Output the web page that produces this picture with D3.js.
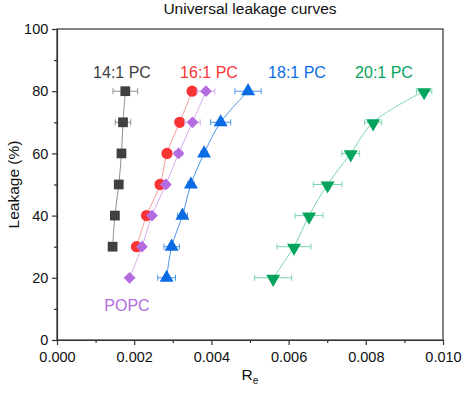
<!DOCTYPE html>
<html>
<head>
<meta charset="utf-8">
<script src="https://cdn.jsdelivr.net/npm/d3@7"></script>
<style>
  body { margin: 0; background: #fff; }
  text { font-family: Arial, "Liberation Sans", sans-serif; }
</style>
</head>
<body>
<div id="chart"></div>
<script>
// leakage levels (%)
const leak7 = [30, 40, 50, 60, 70, 80];
const leakPOPC = [20, 30, 40, 50, 60, 70, 80];
const leak18 = [20, 30, 40, 50, 60, 70, 80];
const leak20 = [20, 30, 40, 50, 60, 70, 80];

// R_e values and errors per series
const re14 = [0.00144, 0.00150, 0.00160, 0.00167, 0.00171, 0.00177];
const err14 = [0.00004, 0.00004, 0.00004, 0.00007, 0.00020, 0.00032];
const re16 = [0.00206, 0.00232, 0.00267, 0.00285, 0.00318, 0.00350];
const err16 = [0.00005, 0.00005, 0.00005, 0.00005, 0.00005, 0.00005];
const rePOPC = [0.00188, 0.00220, 0.00246, 0.00282, 0.00315, 0.00351, 0.00386];
const errPOPC = [0.00005, 0.00006, 0.00006, 0.00006, 0.00010, 0.00020, 0.00023];
const re18 = [0.00284, 0.00297, 0.00325, 0.00347, 0.00381, 0.00424, 0.00495];
const err18 = [0.00023, 0.00020, 0.00013, 0.00008, 0.00008, 0.00026, 0.00034];
const re20 = [0.00560, 0.00614, 0.00653, 0.00701, 0.00761, 0.00819, 0.00951];
const err20 = [0.00048, 0.00044, 0.00036, 0.00037, 0.00023, 0.00022, 0.00020];

const xTicks = [0, 0.002, 0.004, 0.006, 0.008, 0.010];
const yTicks = [0, 20, 40, 60, 80, 100];

const series = [
  {name: "14:1 PC", re: re14, err: err14, leak: leak7, color: "#404040", line: "#909090", shape: d3.symbolSquare, size: 95, rot: 0, lx: 122, ly: 78},
  {name: "16:1 PC", re: re16, err: err16, leak: leak7, color: "#fa3434", line: "#f99a9a", shape: d3.symbolCircle, size: 100, rot: 0, lx: 209, ly: 78},
  {name: "POPC", re: rePOPC, err: errPOPC, leak: leakPOPC, color: "#b46be0", line: "#d6aaef", shape: d3.symbolSquare, size: 70, rot: 45, lx: 127, ly: 311},
  {name: "18:1 PC", re: re18, err: err18, leak: leak18, color: "#0a6be4", line: "#4a94ea", shape: d3.symbolTriangle, size: 85, rot: 0, lx: 297, ly: 78},
  {name: "20:1 PC", re: re20, err: err20, leak: leak20, color: "#05a45c", line: "#7ad6ae", shape: d3.symbolTriangle, size: 85, rot: 180, lx: 384, ly: 78}
];

const width = 464, height = 396;
const margin = {top: 29, right: 21, bottom: 56, left: 57};
const svg = d3.select("#chart").append("svg").attr("width", width).attr("height", height);

const x = d3.scaleLinear().domain([0, 0.010]).range([margin.left, width - margin.right]);
const y = d3.scaleLinear().domain([0, 100]).range([height - margin.bottom, margin.top]);

// frame
svg.append("rect")
  .attr("x", x(0)).attr("y", y(100))
  .attr("width", x(0.010) - x(0)).attr("height", y(0) - y(100))
  .attr("fill", "none").attr("stroke", "#333").attr("stroke-width", 1.2);

// axes
const xAxis = svg.append("g").attr("transform", `translate(0,${y(0)})`)
  .call(d3.axisBottom(x).tickValues(xTicks).tickFormat(d3.format(".3f")).tickSize(5).tickSizeOuter(0));
svg.append("g").attr("transform", `translate(0,${y(0)})`)
  .call(d3.axisBottom(x).tickValues(d3.range(0.001, 0.010, 0.002)).tickFormat("").tickSize(3).tickSizeOuter(0))
  .select(".domain").remove();
const yAxis = svg.append("g").attr("transform", `translate(${x(0)},0)`)
  .call(d3.axisLeft(y).tickValues(yTicks).tickSize(5).tickSizeOuter(0));
svg.append("g").attr("transform", `translate(${x(0)},0)`)
  .call(d3.axisLeft(y).tickValues(d3.range(10, 100, 20)).tickFormat("").tickSize(3).tickSizeOuter(0))
  .select(".domain").remove();

svg.selectAll(".tick line").attr("stroke", "#333").attr("stroke-width", 1.2);
svg.selectAll(".domain").attr("stroke", "#333").attr("stroke-width", 1.2);
xAxis.selectAll("text").attr("font-size", 14.5).attr("fill", "#111").attr("dy", "0.95em");
yAxis.selectAll("text").attr("font-size", 14.5).attr("fill", "#111").attr("dx", "-0.05em");

// title and axis labels
svg.append("text").attr("x", 250).attr("y", 14).attr("text-anchor", "middle")
  .attr("font-size", 15.5).attr("fill", "#111").text("Universal leakage curves");
const xl = svg.append("text").attr("x", 250).attr("y", 380).attr("text-anchor", "middle")
  .attr("font-size", 15.5).attr("fill", "#111");
xl.append("tspan").text("R");
xl.append("tspan").attr("font-size", 10).attr("dy", 4).text("e");
svg.append("text").attr("transform", `translate(19,${y(50)}) rotate(-90)`)
  .attr("text-anchor", "middle").attr("font-size", 15.5).attr("fill", "#111").text("Leakage (%)");

const line = d3.line().x(d => x(d.re)).y(d => y(d.leak)).curve(d3.curveCatmullRom);

series.forEach(s => {
  const pts = s.re.map((r, i) => ({re: r, err: s.err[i], leak: s.leak[i]}));
  const g = svg.append("g");
  g.append("path").datum(pts).attr("fill", "none").attr("stroke", s.line)
    .attr("stroke-width", 1).attr("d", line);
  // error bars
  const eb = g.selectAll(".eb").data(pts).join("g").attr("stroke", s.line).attr("stroke-width", 1);
  eb.append("line").attr("x1", d => x(d.re - d.err)).attr("x2", d => x(d.re + d.err))
    .attr("y1", d => y(d.leak)).attr("y2", d => y(d.leak));
  eb.append("line").attr("x1", d => x(d.re - d.err)).attr("x2", d => x(d.re - d.err))
    .attr("y1", d => y(d.leak) - 3).attr("y2", d => y(d.leak) + 3);
  eb.append("line").attr("x1", d => x(d.re + d.err)).attr("x2", d => x(d.re + d.err))
    .attr("y1", d => y(d.leak) - 3).attr("y2", d => y(d.leak) + 3);
  // markers
  g.selectAll(".m").data(pts).join("path")
    .attr("d", d3.symbol().type(s.shape).size(s.size))
    .attr("transform", d => `translate(${x(d.re)},${y(d.leak) + (s.rot === 180 ? 1 : 0)}) rotate(${s.rot})`)
    .attr("fill", s.color);
  svg.append("text").attr("x", s.lx).attr("y", s.ly).attr("text-anchor", "middle")
    .attr("font-size", 16).attr("fill", s.color).text(s.name);
});
</script>
</body>
</html>
